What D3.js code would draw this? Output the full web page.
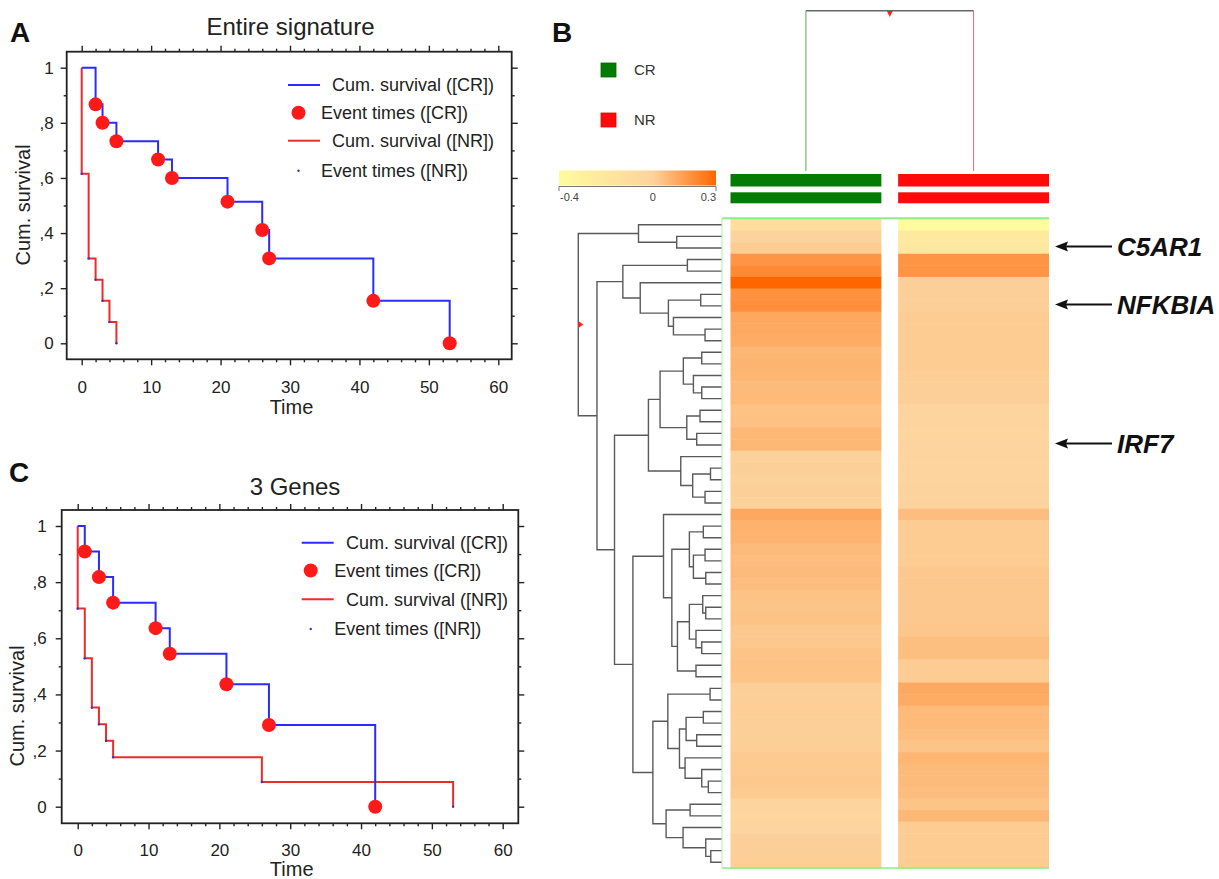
<!DOCTYPE html>
<html><head><meta charset="utf-8">
<script src="https://cdn.jsdelivr.net/npm/d3@7"></script>
<style>
body{margin:0;background:#fff}
svg{display:block}
text{font-family:Arial,"Liberation Sans",sans-serif}
</style>
</head><body>
<svg id="c" width="1219" height="879"></svg>
<script>
// ---------------- DATA ----------------
// Kaplan-Meier, panel A (Entire signature)
const kmA_crTimes = [2, 3, 5, 11, 13, 21, 26, 27, 42, 53];
const kmA_crSurv  = [0.867, 0.8, 0.733, 0.667, 0.6, 0.514, 0.411, 0.308, 0.154, 0];
const kmA_nrTimes = [0, 1, 2, 3, 4, 5];
const kmA_nrSurv  = [0.615, 0.308, 0.231, 0.154, 0.077, 0];
// Kaplan-Meier, panel C (3 Genes)
const kmC_crTimes = [1, 3, 5, 11, 13, 21, 27, 42];
const kmC_crSurv  = [0.909, 0.818, 0.727, 0.636, 0.545, 0.436, 0.291, 0];
const kmC_nrTimes = [0, 1, 2, 3, 4, 5, 26, 53];
const kmC_nrSurv  = [0.706, 0.529, 0.353, 0.294, 0.235, 0.176, 0.088, 0];
// axis ticks
const xTicks = [0, 10, 20, 30, 40, 50, 60];
const xMinorTicks = [2,4,6,8,12,14,16,18,22,24,26,28,32,34,36,38,42,44,46,48,52,54,56,58];
const yTicks = [0, 0.2, 0.4, 0.6, 0.8, 1];
const yTickLabels = ["0", ",2", ",4", ",6", ",8", "1"];
const yMinorTicks = [0.1, 0.3, 0.5, 0.7, 0.9];
const legendLabels = ["Cum. survival ([CR])", "Event times ([CR])", "Cum. survival ([NR])", "Event times ([NR])"];
// heatmap
const groups = ["CR", "NR"];
const crValues = [-0.10,0.00,0.02,0.17,0.20,0.30,0.18,0.19,0.12,0.115,0.11,0.08,0.085,0.08,0.065,0.07,
  0.045,0.05,0.075,0.075,0.005,0.01,0.005,0.01,0.005,0.12,0.09,0.085,0.065,0.06,0.065,0.06,
  0.045,0.04,0.045,0.03,0.03,0.04,0.045,0.04,0.01,0.01,0.015,0.01,0.01,0.015,0.025,0.025,
  0.03,0.025,-0.01,-0.02,-0.01,0.01,0.01,0.015];
const nrValues = [-0.40,-0.22,-0.20,0.17,0.17,0.01,0.01,0.01,0.02,0.02,0.02,0.02,0.02,0.015,0.01,0.01,
  -0.01,-0.01,-0.015,-0.01,-0.01,-0.01,-0.005,0.0,0.0,0.06,0.02,0.02,0.02,0.02,0.03,0.03,
  0.03,0.03,0.03,0.035,0.055,0.055,0.02,0.02,0.115,0.11,0.07,0.07,0.055,0.04,0.08,0.065,
  0.065,0.06,0.04,0.075,0.02,0.02,0.02,0.02];
const colorStops = [-0.4, 0, 0.3];
const colorTickLabels = ["-0.4", "0", "0.3"];
const genes = ["C5AR1", "NFKBIA", "IRF7"];
const geneRows = [2, 7, 19];
// row dendrogram: [mergeHeight, left, right]; leaves are row indices
const rowTree =
 [1.0,
   [0.581, 0, [0.315, 1, 2]],
   [0.870,
     [0.690, [0.241, 3, 4], [0.569, 5, [0.373, [0.148, 6, 7], [0.338, 8, [0.118, 9, 10]]]]],
     [0.748,
       [0.512,
         [0.431,
           [0.269, [0.141, 11, 12], [0.199, 13, [0.141, 14, 15]]],
           [0.245, [0.153, 16, 17], [0.176, 18, 19]]],
         [0.287, 20, [0.204, [0.08, 21, 22], [0.118, 23, 24]]]],
       [0.620,
         [0.407, 25,
           [0.349,
             [0.227, [0.130, 26, 27], [0.199, [0.118, 28, 29], [0.113, 30, 31]]],
             [0.310,
               [0.227, [0.134, 32, [0.113, 33, 34]], [0.181, 35, [0.141, 36, 37]]],
               [0.181, 38, 39]]]],
         [0.481,
           [0.377, [0.083, 40, 41],
             [0.296,
               [0.250, [0.130, 42, 43], [0.176, 44, 45]],
               [0.257, 46, [0.141, 47, [0.095, 48, 49]]]]],
           [0.389, [0.222, 50, 51], [0.271, 52, [0.113, 53, [0.078, 54, 55]]]]]]]]];

// ---------------- DRAW ----------------
const svg = d3.select("#c");
const INK = "#222";

function drawKM(cfg) {
  const g = svg.append("g");
  const x = d3.scaleLinear().domain([0, 60]).range(cfg.xr);
  const y = d3.scaleLinear().domain([0, 1]).range(cfg.yr);
  const f = cfg.frame;

  const styleAxis = sel => {
    sel.select(".domain").remove();
    sel.selectAll(".tick line").attr("stroke", INK).attr("stroke-width", 1.4);
    sel.selectAll("text").attr("fill", INK).attr("font-size", 17)
      .attr("font-family", "Arial, 'Liberation Sans', sans-serif");
  };
  // bottom
  g.append("g").attr("transform", `translate(0,${f.b})`)
    .call(d3.axisBottom(x).tickValues(xTicks).tickSize(6).tickSizeOuter(0).tickPadding(cfg.xpad)).call(styleAxis);
  g.append("g").attr("transform", `translate(0,${f.b})`)
    .call(d3.axisBottom(x).tickValues(xMinorTicks).tickSize(3).tickFormat("")).call(styleAxis);
  // top
  g.append("g").attr("transform", `translate(0,${f.t})`)
    .call(d3.axisTop(x).tickValues(xTicks).tickSize(6).tickFormat("")).call(styleAxis);
  g.append("g").attr("transform", `translate(0,${f.t})`)
    .call(d3.axisTop(x).tickValues(xMinorTicks).tickSize(3).tickFormat("")).call(styleAxis);
  // left
  g.append("g").attr("transform", `translate(${f.l},0)`)
    .call(d3.axisLeft(y).tickValues(yTicks).tickSize(6).tickPadding(cfg.ypad)
      .tickFormat((d, i) => yTickLabels[i])).call(styleAxis);
  g.append("g").attr("transform", `translate(${f.l},0)`)
    .call(d3.axisLeft(y).tickValues(yMinorTicks).tickSize(3).tickFormat("")).call(styleAxis);
  // right
  g.append("g").attr("transform", `translate(${f.r},0)`)
    .call(d3.axisRight(y).tickValues(yTicks).tickSize(6).tickFormat("")).call(styleAxis);
  g.append("g").attr("transform", `translate(${f.r},0)`)
    .call(d3.axisRight(y).tickValues(yMinorTicks).tickSize(3).tickFormat("")).call(styleAxis);

  // frame
  g.append("rect").attr("x", f.l).attr("y", f.t).attr("width", f.r - f.l).attr("height", f.b - f.t)
    .attr("fill", "none").attr("stroke", INK).attr("stroke-width", 1.8);

  // step curves
  const stepPts = (times, surv) => {
    const pts = [[0, 1]];
    let prev = 1;
    times.forEach((t, i) => { pts.push([t, prev]); pts.push([t, surv[i]]); prev = surv[i]; });
    return pts;
  };
  const line = d3.line().x(d => x(d[0])).y(d => y(d[1]));
  g.append("path").attr("d", line(stepPts(cfg.nrT, cfg.nrS))).attr("fill", "none")
    .attr("stroke", "#ee2b2b").attr("stroke-width", 2);
  g.append("path").attr("d", line(stepPts(cfg.crT, cfg.crS))).attr("fill", "none")
    .attr("stroke", "#2b2bff").attr("stroke-width", 2);
  // NR event marks (tiny)
  g.selectAll(".nrm").data(cfg.nrT).enter().append("circle")
    .attr("cx", d => x(d)).attr("cy", (d, i) => y(cfg.nrS[i])).attr("r", 1.2).attr("fill", "#3333cc");
  // CR event dots
  g.selectAll(".crm").data(cfg.crT).enter().append("circle")
    .attr("cx", d => x(d)).attr("cy", (d, i) => y(cfg.crS[i])).attr("r", 7).attr("fill", "#ff1a1a");

  // titles / labels
  g.append("text").attr("x", cfg.title[0]).attr("y", cfg.title[1]).attr("text-anchor", "middle")
    .attr("font-size", 24).attr("fill", INK).text(cfg.titleText);
  g.append("text").attr("x", cfg.timeLab[0]).attr("y", cfg.timeLab[1]).attr("text-anchor", "middle")
    .attr("font-size", 20).attr("fill", INK).text("Time");
  g.append("text").attr("transform", `translate(${cfg.yLab[0]},${cfg.yLab[1]}) rotate(-90)`)
    .attr("text-anchor", "middle").attr("dy", "0.35em").attr("font-size", 20).attr("fill", INK).text("Cum. survival");
  g.append("text").attr("x", cfg.panel[0]).attr("y", cfg.panel[1]).attr("font-size", 28)
    .attr("font-weight", "bold").attr("fill", "#111").text(cfg.panelText);

  // legend
  const L = cfg.legend;
  const lg = g.append("g").attr("font-size", 18).attr("fill", INK);
  lg.append("line").attr("x1", L.lx).attr("x2", L.lx + 32).attr("y1", L.y[0]).attr("y2", L.y[0])
    .attr("stroke", "#2b2bff").attr("stroke-width", 2);
  lg.append("circle").attr("cx", L.dx).attr("cy", L.y[1]).attr("r", 7).attr("fill", "#ff1a1a");
  lg.append("line").attr("x1", L.lx).attr("x2", L.lx + 32).attr("y1", L.y[2]).attr("y2", L.y[2])
    .attr("stroke", "#ee2b2b").attr("stroke-width", 2);
  lg.append("circle").attr("cx", L.dx).attr("cy", L.y[3]).attr("r", 1.2).attr("fill", "#3333cc");
  legendLabels.forEach((t, i) => {
    lg.append("text").attr("x", i % 2 === 0 ? L.tx1 : L.tx2).attr("y", L.y[i]).attr("dy", "0.35em").text(t);
  });
}

drawKM({
  xr: [81.7, 498.3], yr: [343.3, 67.7], frame: { l: 66.7, r: 511.7, t: 51.7, b: 359.3 },
  xpad: 16, ypad: 7,
  crT: kmA_crTimes, crS: kmA_crSurv, nrT: kmA_nrTimes, nrS: kmA_nrSurv,
  titleText: "Entire signature", title: [290.5, 35], timeLab: [291.5, 414], yLab: [23, 205],
  panelText: "A", panel: [10, 42],
  legend: { lx: 288, dx: 298.5, tx1: 332, tx2: 321, y: [85, 112.7, 140.7, 170.7] }
});
drawKM({
  xr: [77.7, 502.7], yr: [806.7, 526], frame: { l: 61.7, r: 518.3, t: 510, b: 823.3 },
  xpad: 15, ypad: 9,
  crT: kmC_crTimes, crS: kmC_crSurv, nrT: kmC_nrTimes, nrS: kmC_nrSurv,
  titleText: "3 Genes", title: [295, 495], timeLab: [291.7, 876], yLab: [17, 706],
  panelText: "C", panel: [9, 482],
  legend: { lx: 301.7, dx: 310.7, tx1: 346, tx2: 334.3, y: [542.7, 570.5, 599.3, 629] }
});

// ---------- Panel B ----------
const gB = svg.append("g");
gB.append("text").attr("x", 552).attr("y", 42).attr("font-size", 28).attr("font-weight", "bold")
  .attr("fill", "#111").text("B");

const heatColor = d3.scaleLinear().domain(colorStops).range(["#fffb9e", "#fdd39d", "#ff6600"]);
const xCol = d3.scaleBand().domain(groups).range([730.5, 1049]).paddingInner(0.1);
const yRow = d3.scaleBand().domain(d3.range(crValues.length)).range([219, 868]);
const groupColor = { CR: "#047c04", NR: "#ff0a0a" };
const groupValues = { CR: crValues, NR: nrValues };

// legend squares
groups.forEach((gname, i) => {
  const yy = 63 + i * 50;
  gB.append("rect").attr("x", 601).attr("y", yy).attr("width", 15).attr("height", 14)
    .attr("fill", groupColor[gname]).attr("stroke", d3.color(groupColor[gname]).darker(0.5)).attr("stroke-width", 0.8);
  gB.append("text").attr("x", 634).attr("y", yy + 7).attr("dy", "0.35em")
    .attr("font-family", "'DejaVu Sans', Verdana, sans-serif").attr("font-size", 15).attr("fill", "#333").text(gname);
});

// color bar
const cbx = d3.scaleLinear().domain(colorStops).range([559, 652.7, 716]);
const defs = svg.append("defs");
const grad = defs.append("linearGradient").attr("id", "cbg").attr("x1", "0%").attr("x2", "100%");
d3.range(0, 1.0001, 0.05).forEach(t => {
  const v = cbx.invert(559 + t * (716 - 559));
  grad.append("stop").attr("offset", (t * 100) + "%").attr("stop-color", heatColor(v));
});
gB.append("rect").attr("x", 559).attr("y", 170.5).attr("width", 157).attr("height", 15).attr("fill", "url(#cbg)");
gB.append("line").attr("x1", 559).attr("x2", 716).attr("y1", 186.5).attr("y2", 186.5).attr("stroke", "#777").attr("stroke-width", 1.2);
[559, 716].forEach(xx => gB.append("line").attr("x1", xx).attr("x2", xx).attr("y1", 186.5).attr("y2", 191)
  .attr("stroke", "#777").attr("stroke-width", 1));
colorStops.forEach((v, i) => {
  gB.append("text").attr("x", cbx(v) + (i === 0 ? 1 : 0)).attr("y", 201)
    .attr("text-anchor", i === 0 ? "start" : i === 1 ? "middle" : "end")
    .attr("font-family", "'DejaVu Sans', Verdana, sans-serif").attr("font-size", 11).attr("fill", "#444")
    .text(colorTickLabels[i]);
});

// class bars
groups.forEach(gname => {
  [[174, 12.5], [192.3, 11]].forEach(([yy, hh]) => {
    gB.append("rect").attr("x", xCol(gname)).attr("y", yy).attr("width", xCol.bandwidth()).attr("height", hh)
      .attr("fill", groupColor[gname]);
  });
});

// column dendrogram
const cxCR = xCol("CR") + xCol.bandwidth() / 2, cxNR = xCol("NR") + xCol.bandwidth() / 2;
gB.append("line").attr("x1", cxCR).attr("x2", cxNR).attr("y1", 10.7).attr("y2", 10.7).attr("stroke", "#666").attr("stroke-width", 1.5);
gB.append("line").attr("x1", cxCR).attr("x2", cxCR).attr("y1", 10.7).attr("y2", 171).attr("stroke", "#4caf4c").attr("stroke-width", 1);
gB.append("line").attr("x1", cxNR).attr("x2", cxNR).attr("y1", 10.7).attr("y2", 171).attr("stroke", "#e07070").attr("stroke-width", 1);
const mcx = (cxCR + cxNR) / 2;
gB.append("path").attr("d", `M${mcx - 3},11 L${mcx + 3},11 L${mcx},17 Z`).attr("fill", "#ff2020");

// heatmap cells
groups.forEach(gname => {
  gB.selectAll(".cell-" + gname).data(groupValues[gname]).enter().append("rect")
    .attr("x", xCol(gname)).attr("y", (d, i) => yRow(i))
    .attr("width", xCol.bandwidth()).attr("height", yRow.bandwidth() + 0.5)
    .attr("fill", d => heatColor(d));
});

// green frame lines
gB.append("line").attr("x1", 722).attr("x2", 1049).attr("y1", 218.3).attr("y2", 218.3).attr("stroke", "#88ee88").attr("stroke-width", 2);
gB.append("line").attr("x1", 722).attr("x2", 722).attr("y1", 218).attr("y2", 868).attr("stroke", "#aaf0aa").attr("stroke-width", 1);
gB.append("line").attr("x1", 722).attr("x2", 1049).attr("y1", 868).attr("y2", 868).attr("stroke", "#88ee88").attr("stroke-width", 1.5);

// row dendrogram
const hx = d3.scaleLinear().domain([0, 1]).range([722, 578.3]);
function layout(n) {
  if (typeof n === "number") return { x: hx(0) - 0.5, y: yRow(n) + yRow.bandwidth() / 2 };
  const a = layout(n[1]), b = layout(n[2]);
  return { x: hx(n[0]), y: (a.y + b.y) / 2, kids: [a, b] };
}
const rootNode = layout(rowTree);
const segs = [];
(function walk(nd) {
  if (!nd.kids) return;
  const [a, b] = nd.kids;
  segs.push(`M${a.x},${a.y}H${nd.x}V${b.y}H${b.x}`);
  walk(a); walk(b);
})(rootNode);
gB.append("path").attr("d", segs.join("")).attr("fill", "none").attr("stroke", "#5a5a5a").attr("stroke-width", 1.4);
gB.append("path").attr("d", `M${rootNode.x},${rootNode.y - 3.5} L${rootNode.x + 5},${rootNode.y} L${rootNode.x},${rootNode.y + 3.5} Z`)
  .attr("fill", "#ff2020");

// gene arrows
genes.forEach((gn, i) => {
  const yy = yRow(geneRows[i]) + yRow.bandwidth() / 2 - 1.5;
  gB.append("line").attr("x1", 1064).attr("x2", 1112).attr("y1", yy).attr("y2", yy).attr("stroke", "#111").attr("stroke-width", 2);
  gB.append("path").attr("d", `M1055,${yy} L1068,${yy - 5} L1066,${yy} L1068,${yy + 5} Z`).attr("fill", "#111");
  gB.append("text").attr("x", 1117).attr("y", yy).attr("dy", "0.36em").attr("font-size", 26)
    .attr("font-weight", "bold").attr("font-style", "italic").attr("fill", "#111").text(gn);
});
</script>
</body></html>
